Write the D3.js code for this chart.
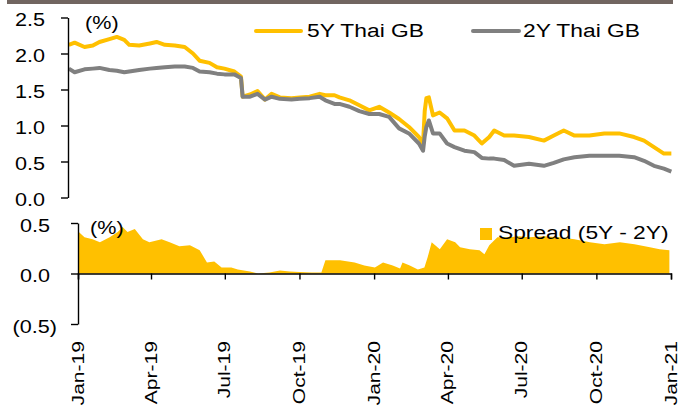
<!DOCTYPE html>
<html lang="en">
<head>
<meta charset="utf-8">
<title>Thai GB yields</title>
<script src="https://cdn.jsdelivr.net/npm/d3@7"></script>
<style>
  body { margin: 0; background: #fff; }
  svg { font-family: "Liberation Sans", Arial, sans-serif; }
  .axis path, .axis line { stroke: #000; stroke-width: 1.4; }
  .axis text { fill: #000; }
</style>
</head>
<body>
<div id="chart"></div>
<script>
// yields (%)
var bondDates = ["2019-01-02","2019-01-09","2019-01-21","2019-01-31","2019-02-08","2019-02-20","2019-03-01","2019-03-10",
  "2019-03-16","2019-03-28","2019-04-10","2019-04-18","2019-04-28","2019-05-10","2019-05-22","2019-06-01","2019-06-09",
  "2019-06-21","2019-06-30","2019-07-09","2019-07-21","2019-07-29","2019-07-31","2019-08-09","2019-08-18","2019-08-27",
  "2019-09-04","2019-09-14","2019-09-28","2019-10-08","2019-10-20","2019-11-01","2019-11-08","2019-11-19","2019-11-25",
  "2019-12-07","2019-12-19","2019-12-31","2020-01-12","2020-01-24","2020-02-05","2020-02-17","2020-02-29","2020-03-05",
  "2020-03-07","2020-03-09","2020-03-12","2020-03-17","2020-03-25","2020-04-03","2020-04-12","2020-04-24","2020-05-06",
  "2020-05-15","2020-05-24","2020-05-30","2020-06-11","2020-06-23","2020-07-11","2020-07-29","2020-08-10","2020-08-22",
  "2020-09-04","2020-09-22","2020-10-10","2020-10-28","2020-11-15","2020-11-27","2020-12-09","2020-12-21","2020-12-30"];
var yield5Y = [2.12,2.15,2.09,2.11,2.16,2.20,2.23,2.19,2.12,2.11,2.14,2.16,2.12,2.11,2.09,2.00,1.90,
  1.87,1.81,1.79,1.75,1.68,1.40,1.43,1.48,1.36,1.44,1.39,1.38,1.39,1.40,1.44,1.42,1.42,1.39,
  1.35,1.28,1.21,1.26,1.18,1.09,0.98,0.84,0.75,1.20,1.38,1.39,1.14,1.18,1.10,0.93,0.93,0.86,
  0.75,0.84,0.93,0.86,0.86,0.84,0.79,0.86,0.93,0.86,0.86,0.89,0.89,0.84,0.79,0.70,0.61,0.61];
var yield2Y = [1.79,1.74,1.78,1.79,1.80,1.77,1.76,1.74,1.75,1.77,1.79,1.80,1.81,1.82,1.82,1.80,1.75,
  1.74,1.72,1.71,1.71,1.66,1.40,1.40,1.44,1.36,1.40,1.37,1.36,1.37,1.38,1.40,1.35,1.30,1.30,
  1.26,1.20,1.16,1.16,1.12,0.96,0.89,0.75,0.65,0.85,0.98,1.07,0.89,0.89,0.75,0.70,0.65,0.63,
  0.55,0.54,0.54,0.52,0.44,0.47,0.44,0.48,0.53,0.56,0.58,0.58,0.58,0.56,0.51,0.44,0.40,0.36];

// spread 5Y - 2Y (%)
var spreadDates = ["2019-01-02","2019-01-09","2019-01-19","2019-01-28","2019-02-09","2019-02-19","2019-02-25","2019-03-03",
  "2019-03-12","2019-03-22","2019-03-30","2019-04-14","2019-04-24","2019-05-06","2019-05-19","2019-05-31","2019-06-09",
  "2019-06-18","2019-06-27","2019-07-09","2019-07-17","2019-08-01","2019-08-11","2019-08-25","2019-09-07","2019-09-19",
  "2019-10-01","2019-10-16","2019-10-28","2019-11-02","2019-11-20","2019-12-08","2019-12-20","2020-01-02","2020-01-12",
  "2020-01-24","2020-02-02","2020-02-05","2020-02-14","2020-02-24","2020-03-03","2020-03-07","2020-03-12","2020-03-22",
  "2020-03-31","2020-04-10","2020-04-16","2020-04-28","2020-05-10","2020-05-16","2020-05-22","2020-06-01","2020-06-16",
  "2020-06-28","2020-07-10","2020-07-29","2020-08-16","2020-09-04","2020-09-23","2020-10-11","2020-10-30","2020-11-17",
  "2020-12-06","2020-12-18","2020-12-30"];
var spread = [0.41,0.36,0.34,0.31,0.36,0.41,0.46,0.41,0.44,0.34,0.31,0.34,0.31,0.27,0.28,0.23,0.11,
  0.12,0.06,0.06,0.04,0.02,0.00,0.01,0.03,0.02,0.015,0.01,0.01,0.13,0.13,0.11,0.08,0.06,0.11,
  0.08,0.05,0.11,0.08,0.04,0.06,0.16,0.31,0.24,0.34,0.31,0.26,0.24,0.23,0.19,0.28,0.36,0.36,
  0.37,0.36,0.37,0.36,0.34,0.31,0.29,0.31,0.29,0.26,0.24,0.23];

var xTicks = ["2019-01-01","2019-04-01","2019-07-01","2019-10-01","2020-01-01","2020-04-01","2020-07-01","2020-10-01","2021-01-01"];
var topTicks = [0, 0.5, 1.0, 1.5, 2.0, 2.5];
var bottomTicks = [-0.5, 0, 0.5];

var parseDate = d3.timeParse("%Y-%m-%d");
var gold = "#ffc000", grey = "#808080";
var sx = 1.2; // the source font runs wide

var svg = d3.select("#chart").append("svg")
  .attr("width", 681)
  .attr("height", 412);

// brown rule at the very top
svg.append("rect")
  .attr("x", 7).attr("y", 0)
  .attr("width", 666).attr("height", 4)
  .attr("fill", "#716560");

var domainX = [parseDate("2019-01-01"), parseDate("2021-01-01")];
var xTop = d3.scaleTime().domain(domainX).range([68, 673]);
var xBot = d3.scaleTime().domain(domainX).range([78, 671]);
var yTop = d3.scaleLinear().domain([0, 2.5]).range([197.5, 17.5]);
var yBot = d3.scaleLinear().domain([-0.5, 0.5]).range([324, 223]);

// ---- top panel ----
var bonds = bondDates.map(function(d, i) {
  return {date: parseDate(d), y5: yield5Y[i], y2: yield2Y[i]};
});

var line5 = d3.line().x(function(d) { return xTop(d.date); }).y(function(d) { return yTop(d.y5); });
var line2 = d3.line().x(function(d) { return xTop(d.date); }).y(function(d) { return yTop(d.y2); });

svg.append("path").datum(bonds)
  .attr("d", line5)
  .attr("fill", "none").attr("stroke", gold).attr("stroke-width", 4)
  .attr("stroke-linejoin", "round");
svg.append("path").datum(bonds)
  .attr("d", line2)
  .attr("fill", "none").attr("stroke", grey).attr("stroke-width", 4)
  .attr("stroke-linejoin", "round");

var topAxis = svg.append("g")
  .attr("class", "axis")
  .attr("transform", "translate(68,0)")
  .call(d3.axisLeft(yTop).tickValues(topTicks).tickSize(7).tickSizeOuter(0).tickFormat(d3.format(".1f")));
topAxis.selectAll("text")
  .attr("x", -23 / sx)
  .attr("dy", "0.47em")
  .attr("font-size", 18)
  .attr("font-family", "Liberation Sans, Arial, sans-serif")
  .attr("transform", "scale(" + sx + ",1)");

function label(x, y, txt, size, anchor) {
  return svg.append("text")
    .attr("transform", "translate(" + x + "," + y + ") scale(" + sx + ",1)")
    .attr("font-size", size)
    .attr("text-anchor", anchor || "start")
    .attr("fill", "#000")
    .text(txt);
}

label(85, 29, "(%)", 18);

// legend
svg.append("line").attr("x1", 256).attr("x2", 301).attr("y1", 31).attr("y2", 31)
  .attr("stroke", gold).attr("stroke-width", 4).attr("stroke-linecap", "round");
label(307, 37, "5Y Thai GB", 19);
svg.append("line").attr("x1", 473).attr("x2", 519).attr("y1", 31).attr("y2", 31)
  .attr("stroke", grey).attr("stroke-width", 4).attr("stroke-linecap", "round");
label(523, 37, "2Y Thai GB", 19);

// ---- bottom panel ----
var spr = spreadDates.map(function(d, i) { return {date: parseDate(d), v: spread[i]}; });

var area = d3.area()
  .x(function(d) { return xBot(d.date); })
  .y0(yBot(0))
  .y1(function(d) { return yBot(d.v); });

svg.append("path").datum(spr)
  .attr("d", area)
  .attr("fill", gold);

var fmt = d3.format(".1f");
var botAxis = svg.append("g")
  .attr("class", "axis")
  .attr("transform", "translate(78,0)")
  .call(d3.axisLeft(yBot).tickValues(bottomTicks).tickSize(7).tickSizeOuter(0)
    .tickFormat(function(v) { return v < 0 ? "(" + fmt(-v) + ")" : fmt(v); }));
botAxis.selectAll("text")
  .attr("x", function(v) { return (v < 0 ? -21 : -28) / sx; })
  .attr("dy", "0.47em")
  .attr("font-size", 18)
  .attr("font-family", "Liberation Sans, Arial, sans-serif")
  .attr("transform", "scale(" + sx + ",1)");

var xAxis = svg.append("g")
  .attr("class", "axis")
  .attr("transform", "translate(0," + yBot(0) + ")")
  .call(d3.axisBottom(xBot).tickValues(xTicks.map(parseDate)).tickSize(6)
    .tickFormat(d3.timeFormat("%b-%y")));
xAxis.selectAll("text")
  .attr("x", 0).attr("y", 0).attr("dy", 0)
  .attr("font-size", 17)
  .attr("font-family", "Liberation Sans, Arial, sans-serif")
  .style("text-anchor", "end")
  .attr("transform", "translate(5,67.5) rotate(-90) scale(1.24,1)");

label(90, 234, "(%)", 18);

svg.append("rect").attr("x", 480).attr("y", 228).attr("width", 12).attr("height", 12).attr("fill", gold);
label(498, 239, "Spread (5Y - 2Y)", 19);
</script>
</body>
</html>
